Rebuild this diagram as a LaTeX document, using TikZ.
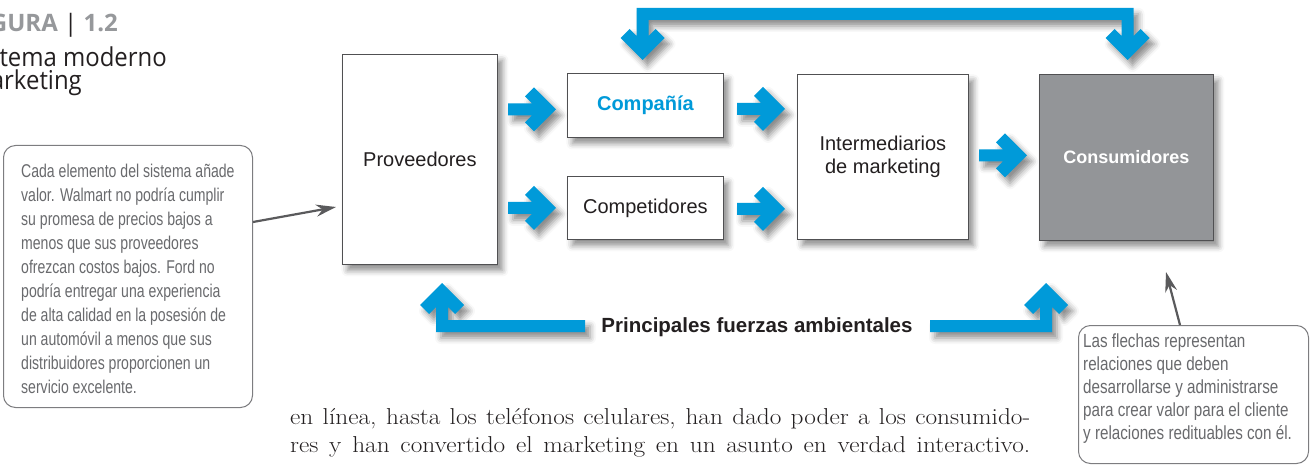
\documentclass[tikz,border=0pt]{standalone}
\usepackage{fontspec}
\newfontfamily\arialf{Liberation Sans}
\newfontfamily\condf[FakeStretch=0.76]{Liberation Sans}
\newfontfamily\condrf[FakeStretch=0.8]{Liberation Sans}
\newfontfamily\opensf{Open Sans}
\newfontfamily\opensw[FakeStretch=0.92]{Open Sans}
\newfontfamily\bodyf[FakeStretch=1.1]{Latin Modern Roman}
\usetikzlibrary{shadows.blur,calc,arrows.meta}
\definecolor{kblue}{RGB}{0,154,217}
\definecolor{cgray}{RGB}{147,149,152}
\definecolor{figgray}{RGB}{150,152,155}
\definecolor{notegray}{RGB}{105,106,109}
\definecolor{notebord}{RGB}{125,125,128}
\definecolor{txtdark}{RGB}{35,31,32}
\definecolor{boxbord}{RGB}{80,80,82}
\definecolor{pointer}{RGB}{90,90,92}
\tikzset{
  softshadow/.style={blur shadow={shadow xshift=5pt, shadow yshift=-6pt, shadow blur radius=6pt, shadow opacity=45}},
  stagebox/.style={draw=boxbord, line width=0.8pt, fill=white, softshadow, inner sep=0pt, anchor=north west,
     font=\arialf\fontsize{20}{23}\selectfont, text=txtdark, align=center},
  bluepath/.style={fill=kblue, softshadow},
  rarrow/.pic={\fill[bluepath] (0,0) -- (-22,-22) -- (-31,-13) -- (-24,-6) -- (-48,-6) -- (-48,6) -- (-24,6) -- (-31,13) -- (-22,22) -- cycle;},
  notebox/.style={draw=notebord, line width=1pt, rounded corners=12pt, fill=white, anchor=north west, inner sep=0pt},
  notetext/.style={anchor=north west, inner sep=0pt, align=left, text=notegray},
  pointerline/.style={draw=pointer, line width=2.2pt, -{Stealth[length=20pt,width=12pt]}},
  bodytext/.style={anchor=base west, inner sep=0pt, text=txtdark, font=\bodyf\fontsize{23}{28}\selectfont},
  titleline/.style={anchor=base east, inner sep=0pt, text=txtdark, font=\opensw\fontsize{26}{26}\selectfont}
}
\begin{document}
\begin{tikzpicture}[x=1pt,y=-1pt]
\useasboundingbox (0,0) rectangle (1312,465);
\clip (0,0) rectangle (1312,465);

% title
\node[anchor=base east, inner sep=0pt, font=\opensf\fontsize{24}{24}\selectfont] (t1) at (118,32)
  {\textcolor{figgray}{\bfseries FIGURA} \textcolor{txtdark}{|} \textcolor{figgray}{\bfseries 1.2}};
\node[titleline] (t2) at (167,67) {Sistema moderno};
\node[titleline] (t3) at (82,90) {de marketing};

% stage boxes
\node[stagebox, minimum width=155pt, minimum height=210pt] (prov) at (342,54) {Proveedores};
\node[stagebox, minimum width=156pt, minimum height=64pt] (comp) at (567,73) {\bfseries\textcolor{kblue}{Compañía}};
\node[stagebox, minimum width=156pt, minimum height=63pt] (compet) at (567,176) {Competidores};
\node[stagebox, minimum width=171pt, minimum height=165pt] (inter) at (797,74) {Intermediarios\\de marketing};
\node[stagebox, fill=cgray, minimum width=174pt, minimum height=166pt, text=white,
      font=\arialf\bfseries\fontsize{18}{22}\selectfont] (cons) at (1039,74) {Consumidores};

% flow arrows
\pic at ($(comp.west)+(-11,4)$) {rarrow};
\pic at ($(compet.west)+(-11,0)$) {rarrow};
\pic at ($(inter.west)+(-12,-48)$) {rarrow};
\pic at ($(inter.west)+(-12,52)$) {rarrow};
\pic at ($(cons.west)+(-12,-2)$) {rarrow};

% top feedback arrow (Consumidores <-> Compañía)
\fill[bluepath] (636.5,36) -- (636.5,8) -- (1133.5,8) -- (1133.5,36) -- (1140.5,29) -- (1149.5,38)
  -- (1127.5,60) -- (1105.5,38) -- (1114.5,29) -- (1121.5,36) -- (1121.5,20) -- (648.5,20)
  -- (648.5,36) -- (655.5,29) -- (664.5,38) -- (642.5,60) -- (620.5,38) -- (629.5,29) -- cycle;

% environmental forces
\node[inner sep=0pt, font=\arialf\bfseries\fontsize{20.5}{24}\selectfont, text=txtdark] (fuerzas) at (757,327)
  {Principales fuerzas ambientales};
\fill[bluepath] (585,320) -- (448,320) -- (448,307) -- (455,314) -- (464,305) -- (442,283) -- (420,305)
  -- (429,314) -- (436,307) -- (436,332) -- (585,332) -- cycle;
\fill[bluepath] (930,320) -- (1040,320) -- (1040,307) -- (1033,314) -- (1024,305) -- (1046,283) -- (1068,305)
  -- (1059,314) -- (1052,307) -- (1052,332) -- (930,332) -- cycle;

% callouts
\node[notebox, minimum width=249pt, minimum height=262pt] (notaL) at (3,145) {};
\node[notetext, font=\condf\fontsize{18.5}{24}\selectfont] (notaLtxt) at (21,164) {Cada elemento del sistema añade\\valor. Walmart no podría cumplir\\su promesa de precios bajos a\\menos que sus proveedores\\ofrezcan costos bajos. Ford no\\podría entregar una experiencia\\de alta calidad en la posesión de\\un automóvil a menos que sus\\distribuidores proporcionen un\\servicio excelente.};
\coordinate (yL) at (0,222);
\coordinate (tipL) at (336,207);
\draw[pointerline] (notaL.east |- yL) -- (tipL);

\node[notebox, minimum width=230pt, minimum height=138pt] (notaR) at (1078,325) {};
\node[notetext, font=\condrf\fontsize{19}{23}\selectfont] (notaRtxt) at (1083,334) {Las flechas representan\\relaciones que deben\\desarrollarse y administrarse\\para crear valor para el cliente\\y relaciones redituables con él.};
\coordinate (xR) at (1180,0);
\coordinate (tipR) at (1166,272);
\draw[pointerline] (notaR.north -| xR) -- (tipR);

% body text
\node[bodytext] (body1) at (290,424) {\hbox to 740pt{en línea, hasta los teléfonos celulares, han dado poder a los consumido-}};
\node[bodytext] (body2) at (290,452) {\hbox to 740pt{res y han convertido el marketing en un asunto en verdad interactivo.}};
\end{tikzpicture}
\end{document}
